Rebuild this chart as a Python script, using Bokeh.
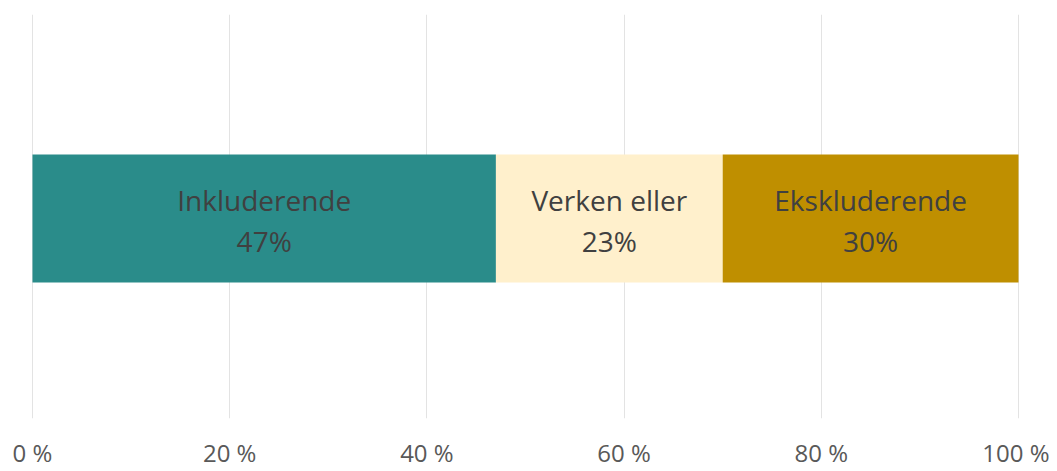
from bokeh.plotting import figure
from bokeh.models import ColumnDataSource, FixedTicker, Range1d
from bokeh.embed import file_html
from bokeh.resources import INLINE
from bokeh.core.properties import value

categories = ["Inkluderende", "Verken eller", "Ekskluderende"]
shares = [47, 23, 30]
colors = ["#2A8C8A", "#FFF0CC", "#BF8F00"]
tick_values = [0, 20, 40, 60, 80, 100]
tick_labels = ["0 %", "20 %", "40 %", "60 %", "80 %", "100 %"]

lefts, rights = [], []
acc = 0
for s in shares:
    lefts.append(acc)
    acc += s
    rights.append(acc)
mids = [(l + r) / 2 for l, r in zip(lefts, rights)]
pct = [f"{s}%" for s in shares]

src = ColumnDataSource(dict(left=lefts, right=rights, mid=mids, cat=categories,
                            pct=pct, color=colors, y=[0.495] * 3))

p = figure(width=1049, height=471, output_backend="svg", toolbar_location=None,
           x_range=Range1d(-0.1, 100.1), y_range=Range1d(0, 1),
           min_border_left=31, min_border_right=30, min_border_top=14, min_border_bottom=46)
p.outline_line_color = None
p.background_fill_color = "white"

p.hbar(y="y", left="left", right="right", height=0.317, color="color", source=src, line_color=None)

p.text(x="mid", y="y", text="cat", source=src, text_align="center", text_baseline="middle",
       y_offset=-19, text_font=value("Open Sans"), text_font_size="28px", text_color="#404040")
p.text(x="mid", y="y", text="pct", source=src, text_align="center", text_baseline="middle",
       y_offset=22, text_font=value("Open Sans"), text_font_size="28px", text_color="#404040")

p.yaxis.visible = False
p.ygrid.visible = False
p.xgrid.ticker = FixedTicker(ticks=tick_values)
p.xgrid.grid_line_color = "#E3E3E3"
p.xgrid.grid_line_width = 1
p.xaxis.ticker = FixedTicker(ticks=tick_values)
p.xaxis.major_label_overrides = {v: l for v, l in zip(tick_values, tick_labels)}
p.xaxis.axis_line_color = None
p.xaxis.major_tick_line_color = None
p.xaxis.minor_tick_line_color = None
p.xaxis.major_tick_out = 0
p.xaxis.major_tick_in = 0
p.xaxis.minor_tick_out = 0
p.xaxis.axis_label_standoff = 0
p.xaxis.major_label_standoff = 17
p.xaxis.major_label_text_font = "Open Sans"
p.xaxis.major_label_text_font_size = "24px"
p.xaxis.major_label_text_color = "#595959"

open("out.html", "w").write(file_html(p, INLINE))
